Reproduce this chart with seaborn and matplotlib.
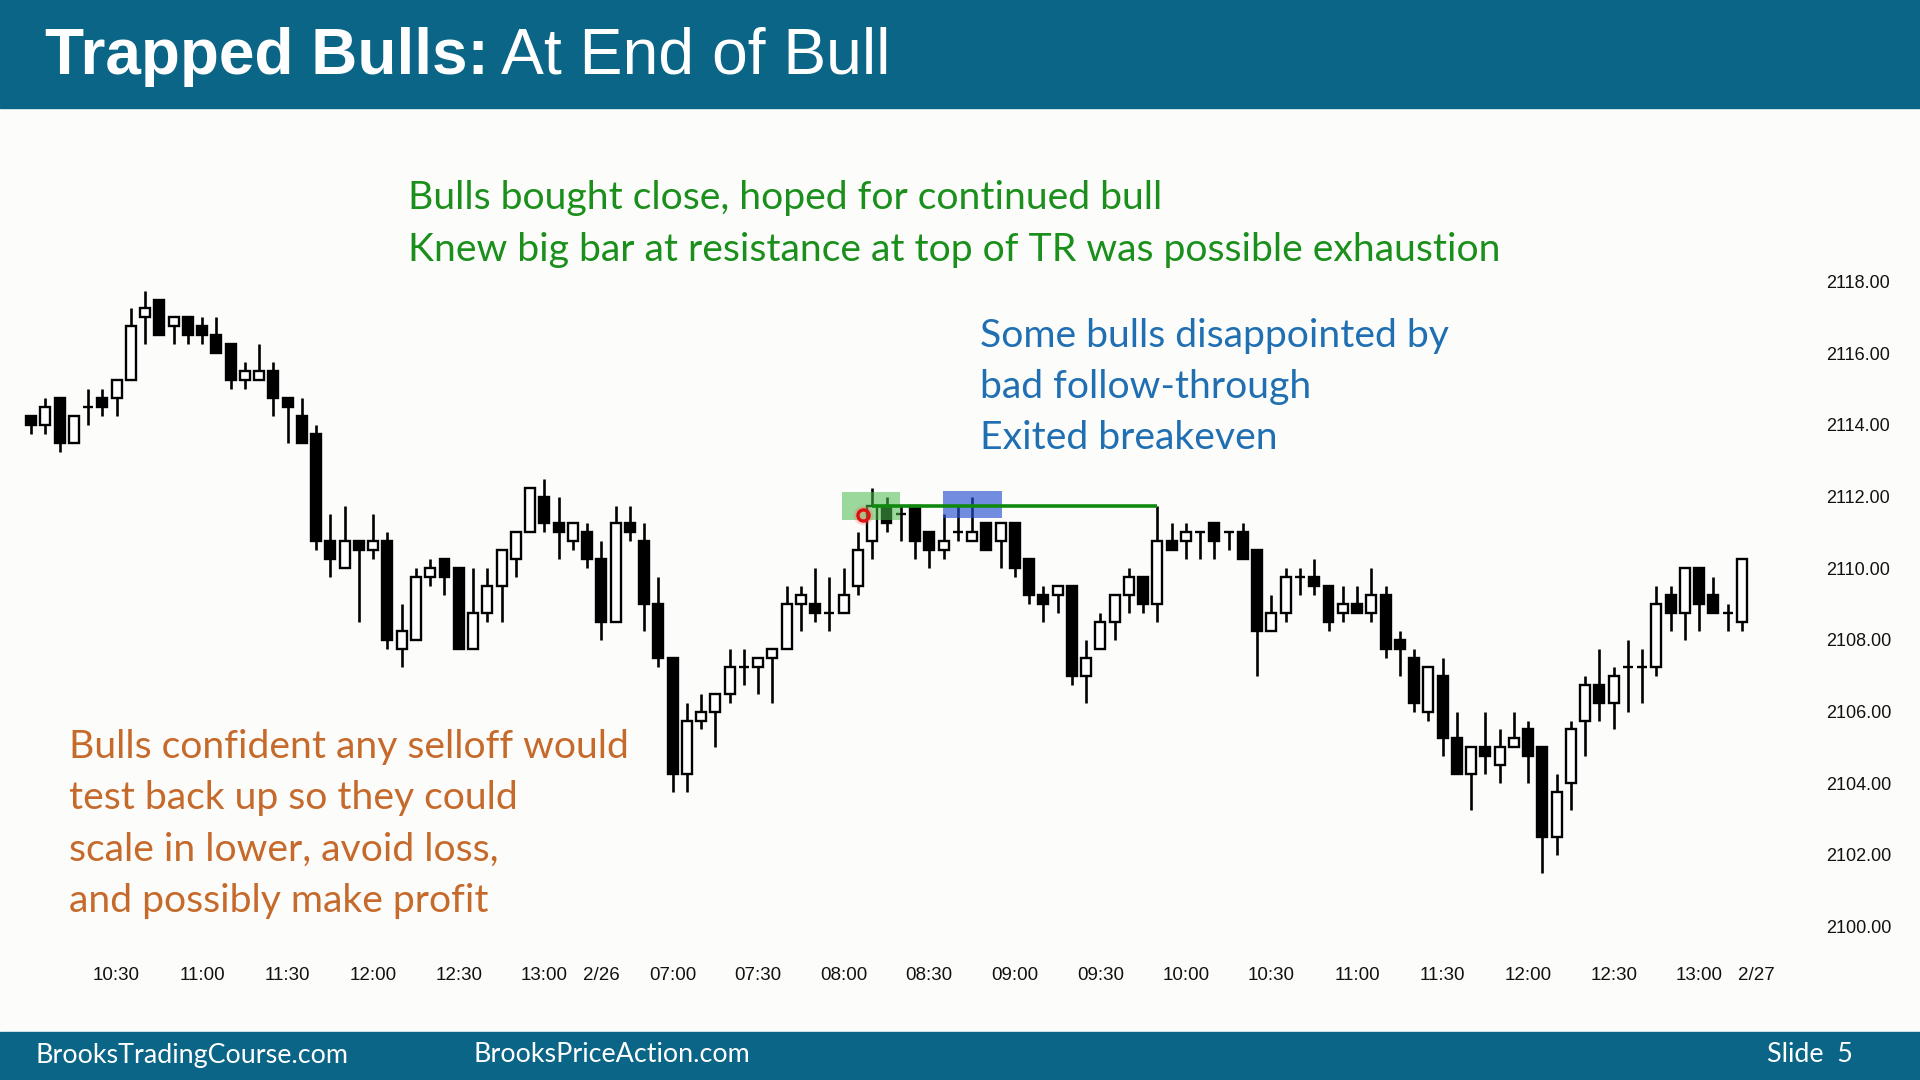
import matplotlib
matplotlib.use("Agg")
import matplotlib.pyplot as plt
from matplotlib import font_manager
from matplotlib.patches import Rectangle
import seaborn as sns
import numpy as np

# ---------------- data (5-minute bars) ----------------
opens = [2114.25, 2114.0, 2114.75, 2113.5, 2114.5, 2114.75, 2114.75, 2115.25, 2117.0, 2117.5,
         2116.75, 2117.0, 2116.75, 2116.5, 2116.25, 2115.25, 2115.25, 2115.5, 2114.75, 2114.25,
         2113.75, 2110.75, 2110.0, 2110.75, 2110.5, 2110.75, 2107.75, 2108.0, 2109.75, 2110.25,
         2110.0, 2107.75, 2108.75, 2109.5, 2110.25, 2111.0, 2112.0, 2111.25, 2110.75, 2111.0,
         2110.25, 2108.5, 2111.25, 2110.75, 2109.0, 2107.5, 2104.25, 2105.75, 2106.0, 2106.5,
         2107.25, 2107.25, 2107.5, 2107.75, 2109.0, 2109.0, 2108.75, 2108.75, 2109.5, 2110.75,
         2111.75, 2111.5, 2111.75, 2111.0, 2110.5, 2111.0, 2110.75, 2111.25, 2110.75, 2111.25,
         2110.25, 2109.25, 2109.25, 2109.5, 2107.0, 2107.75, 2108.5, 2109.25, 2109.75, 2109.0,
         2110.75, 2110.75, 2111.0, 2111.25, 2111.0, 2111.0, 2110.5, 2108.25, 2108.75, 2109.75,
         2109.75, 2109.5, 2108.75, 2109.0, 2108.75, 2109.25, 2108.0, 2107.5, 2106.0, 2107.0,
         2105.25, 2104.25, 2105.0, 2104.5, 2105.0, 2105.5, 2105.0, 2102.5, 2104.0, 2105.75,
         2106.75, 2106.25, 2107.25, 2107.25, 2107.25, 2109.25, 2108.75, 2110.0, 2109.25, 2108.75,
         2108.5]
highs = [2114.25, 2114.75, 2114.75, 2114.25, 2115.0, 2115.0, 2115.25, 2117.25, 2117.75, 2117.5,
         2117.0, 2117.0, 2117.0, 2117.0, 2116.25, 2115.75, 2116.25, 2115.75, 2114.75, 2114.75,
         2114.0, 2111.5, 2111.75, 2110.75, 2111.5, 2111.0, 2109.0, 2110.0, 2110.25, 2110.25,
         2110.0, 2110.0, 2110.0, 2110.5, 2111.0, 2112.25, 2112.5, 2112.0, 2111.25, 2111.25,
         2110.75, 2111.75, 2111.75, 2111.25, 2109.75, 2107.5, 2106.25, 2106.5, 2106.5, 2107.75,
         2107.75, 2107.5, 2107.75, 2109.5, 2109.5, 2110.0, 2109.75, 2110.0, 2111.0, 2112.25,
         2112.0, 2111.75, 2111.75, 2111.0, 2111.5, 2111.75, 2112.0, 2111.25, 2111.25, 2111.25,
         2110.25, 2109.5, 2109.5, 2109.5, 2108.0, 2108.75, 2109.25, 2110.0, 2109.75, 2111.75,
         2111.25, 2111.25, 2111.0, 2111.25, 2111.0, 2111.25, 2110.5, 2109.25, 2110.0, 2110.0,
         2110.25, 2109.5, 2109.5, 2109.5, 2110.0, 2109.5, 2108.25, 2107.75, 2107.25, 2107.5,
         2106.0, 2105.0, 2106.0, 2105.5, 2106.0, 2105.75, 2105.0, 2104.25, 2105.75, 2107.0,
         2107.75, 2107.25, 2108.0, 2107.75, 2109.5, 2109.5, 2110.0, 2110.0, 2109.75, 2109.0,
         2110.25]
lows = [2113.75, 2113.75, 2113.25, 2113.5, 2114.0, 2114.25, 2114.25, 2115.25, 2116.25, 2116.5,
        2116.25, 2116.25, 2116.25, 2116.0, 2115.0, 2115.0, 2115.25, 2114.25, 2113.5, 2113.5,
        2110.5, 2109.75, 2110.0, 2108.5, 2110.25, 2107.75, 2107.25, 2108.0, 2109.5, 2109.25,
        2107.75, 2107.75, 2108.5, 2108.5, 2109.75, 2111.0, 2111.0, 2110.25, 2110.5, 2110.0,
        2108.0, 2108.5, 2110.75, 2108.25, 2107.25, 2103.75, 2103.75, 2105.5, 2105.0, 2106.25,
        2106.75, 2106.5, 2106.25, 2107.75, 2108.25, 2108.5, 2108.25, 2108.75, 2109.25, 2110.25,
        2111.0, 2110.75, 2110.25, 2110.0, 2110.25, 2110.75, 2110.75, 2110.5, 2110.0, 2109.75,
        2109.0, 2108.5, 2108.75, 2106.75, 2106.25, 2107.75, 2108.0, 2108.75, 2108.75, 2108.5,
        2110.5, 2110.25, 2110.25, 2110.25, 2110.5, 2110.25, 2107.0, 2108.25, 2108.5, 2109.25,
        2109.25, 2108.25, 2108.5, 2108.75, 2108.5, 2107.5, 2107.0, 2106.0, 2105.75, 2104.75,
        2104.25, 2103.25, 2104.25, 2104.0, 2105.0, 2104.0, 2101.5, 2102.0, 2103.25, 2104.75,
        2105.75, 2105.5, 2106.0, 2106.25, 2107.0, 2108.25, 2108.0, 2108.25, 2108.75, 2108.25,
        2108.25]
closes = [2114.0, 2114.5, 2113.5, 2114.25, 2114.5, 2114.5, 2115.25, 2116.75, 2117.25, 2116.5,
          2117.0, 2116.5, 2116.5, 2116.0, 2115.25, 2115.5, 2115.5, 2114.75, 2114.5, 2113.5,
          2110.75, 2110.25, 2110.75, 2110.5, 2110.75, 2108.0, 2108.25, 2109.75, 2110.0, 2109.75,
          2107.75, 2108.75, 2109.5, 2110.5, 2111.0, 2112.25, 2111.25, 2111.0, 2111.25, 2110.25,
          2108.5, 2111.25, 2111.0, 2109.0, 2107.5, 2104.25, 2105.75, 2106.0, 2106.5, 2107.25,
          2107.25, 2107.5, 2107.75, 2109.0, 2109.25, 2108.75, 2108.75, 2109.25, 2110.5, 2111.75,
          2111.25, 2111.5, 2110.75, 2110.5, 2110.75, 2111.0, 2111.0, 2110.5, 2111.25, 2110.0,
          2109.25, 2109.0, 2109.5, 2107.0, 2107.5, 2108.5, 2109.25, 2109.75, 2109.0, 2110.75,
          2110.5, 2111.0, 2111.0, 2110.75, 2111.0, 2110.25, 2108.25, 2108.75, 2109.75, 2109.75,
          2109.5, 2108.5, 2109.0, 2108.75, 2109.25, 2107.75, 2107.75, 2106.25, 2107.25, 2105.25,
          2104.25, 2105.0, 2104.75, 2105.0, 2105.25, 2104.75, 2102.5, 2103.75, 2105.5, 2106.75,
          2106.25, 2107.0, 2107.25, 2107.25, 2109.0, 2108.75, 2110.0, 2109.0, 2108.75, 2108.75,
          2110.25]

xtick_bars = [6, 12, 18, 24, 30, 36, 40, 45, 51, 57, 63, 69, 75, 81, 87, 93, 99, 105, 111, 117, 121]
xtick_labels = ["10:30", "11:00", "11:30", "12:00", "12:30", "13:00", "2/26", "07:00", "07:30",
                "08:00", "08:30", "09:00", "09:30", "10:00", "10:30", "11:00", "11:30", "12:00",
                "12:30", "13:00", "2/27"]
ytick_values = [2100, 2102, 2104, 2106, 2108, 2110, 2112, 2114, 2116, 2118]

signal_bar = 59      # big bull bar whose close the bulls bought
breakeven_bar = 79   # bar that got back to the entry price

title_bold = "Trapped Bulls:"
title_rest = "At End of Bull"
green_lines = ["Bulls bought close, hoped for continued bull",
               "Knew big bar at resistance at top of TR was possible exhaustion"]
blue_lines = ["Some bulls disappointed by", "bad follow-through", "Exited breakeven"]
orange_lines = ["Bulls confident any selloff would", "test back up so they could",
                "scale in lower, avoid loss,", "and possibly make profit"]
footer_items = ["BrooksTradingCourse.com", "BrooksPriceAction.com", "Slide  5"]

# ---------------- style ----------------
BG = "#fcfdfb"
BAND = "#0b6586"
sns.set_theme(style="white", rc={"figure.facecolor": BG, "axes.facecolor": "none"})


def has_font(name):
    try:
        font_manager.findfont(font_manager.FontProperties(family=name), fallback_to_default=False)
        return True
    except Exception:
        return False


NARROW = "Liberation Sans Narrow" if has_font("Liberation Sans Narrow") else "Liberation Sans"
BODYFONT = "Lato"
plt.rcParams["font.family"] = [BODYFONT, "DejaVu Sans"]

W, H = 1920, 1080
fig = plt.figure(figsize=(19.2, 10.8), dpi=100, facecolor=BG)

# header / footer bands
fig.add_artist(Rectangle((0, 1 - 108 / H), 1, 108 / H, transform=fig.transFigure,
                         color=BAND, zorder=0))
fig.add_artist(Rectangle((0, 0), 1, 48 / H, transform=fig.transFigure, color=BAND, zorder=0))

# chart axes
px_per_bar = (1742 - 31) / 120.0
ax = fig.add_axes([0, 1 - 955 / H, 1815 / W, (955 - 120) / H])
ax.set_xlim(-31 / px_per_bar, (1815 - 31) / px_per_bar)
py = 35.83
ax.set_ylim(2118 - (955 - 281.6) / py, 2118 + (281.6 - 120) / py)
for s in ax.spines.values():
    s.set_visible(False)

o = np.array(opens); h = np.array(highs); l = np.array(lows); c = np.array(closes)
x = np.arange(len(o))
bull = c >= o
face = np.where(bull, "white", "black")

ax.vlines(x, l, h, color="black", linewidth=1.9, zorder=2)
ax.bar(x, c - o, bottom=o, width=0.70, color=face, edgecolor="black",
       linewidth=1.7, zorder=3)

# highlight boxes
ax.add_patch(Rectangle((56.87, 2111.35), 4.07, 0.77, facecolor="#4cbb4c", alpha=0.55,
                       edgecolor="none", zorder=4))
ax.add_patch(Rectangle((63.95, 2111.40), 4.14, 0.76, facecolor="#2850d0", alpha=0.65,
                       edgecolor="none", zorder=4))
# entry price line
ax.hlines(closes[signal_bar], signal_bar, breakeven_bar, color="#0f8a0f", linewidth=2.6, zorder=5)
# red marker
ax.plot([58.37], [2111.48], marker="o", ms=14, mfc="#ff6060", mec="none", alpha=0.25, zorder=6)
ax.plot([58.37], [2111.48], marker="o", ms=8, mfc="none", mec="#e01010", mew=2.4, zorder=7)

# ticks
ax.set_xticks(xtick_bars)
ax.set_xticklabels(xtick_labels, fontfamily=NARROW, fontsize=13.5, color="#111111")
ax.yaxis.tick_right()
ax.set_yticks(ytick_values)
ax.set_yticklabels([f"{v:.2f}" for v in ytick_values], fontfamily=NARROW, fontsize=13,
                   color="#111111")
ax.tick_params(axis="x", length=0, pad=8.4)
ax.tick_params(axis="y", length=0, pad=7.8)
ax.grid(False)

# title
t1 = fig.text(45 / W, 1 - 57 / H, title_bold, fontfamily=NARROW, fontweight="bold",
              fontsize=46, color="white", va="center", ha="left")
fig.canvas.draw()
bb = t1.get_window_extent(renderer=fig.canvas.get_renderer())
fig.text((bb.x1 + 12) / W, 1 - 57 / H, title_rest, fontfamily=NARROW, fontsize=46.3,
         color="white", va="center", ha="left")

# annotations
FS = 28.2
for i, s in enumerate(green_lines):
    fig.text(407.8 / W, 1 - (198.5 + 51.4 * i) / H, s, color="#1b8f1b", fontsize=FS,
             va="center", ha="left")
for i, s in enumerate(blue_lines):
    fig.text(979.6 / W, 1 - (335.5 + 51.4 * i) / H, s, color="#1f6fb2", fontsize=FS,
             va="center", ha="left")
for i, s in enumerate(orange_lines):
    fig.text(68.6 / W, 1 - (747 + 51.4 * i) / H, s, color="#c66a2c", fontsize=FS,
             va="center", ha="left")

# footer
for xpx, s in zip([35.5, 473.9, 1767], footer_items):
    fig.text(xpx / W, 1 - 1055 / H, s, color="white", fontsize=19.4, va="center", ha="left")

fig.savefig("out.png", dpi=100, facecolor=BG)
